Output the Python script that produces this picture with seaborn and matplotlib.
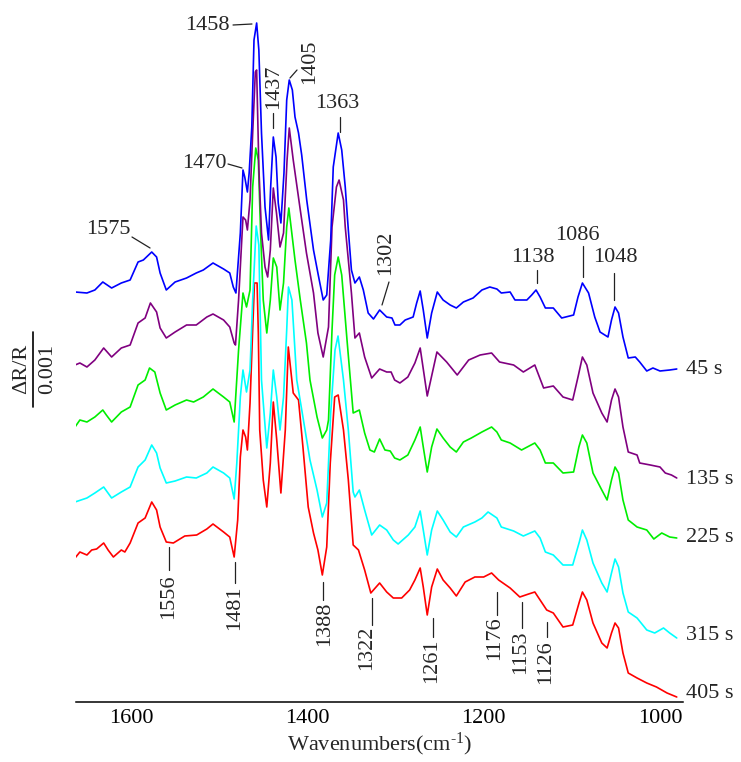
import numpy as np
import pandas as pd
import matplotlib
matplotlib.use("Agg")
import matplotlib.pyplot as plt
from matplotlib.lines import Line2D
import seaborn as sns

# ---------------- data (wavenumber in cm-1, signal in arbitrary stacked units) ----------------
wn_45 = [1663.5,1650,1641,1632,1622,1611,1601,1592,1586,1576.5,1571,1567,1560,1550,1537,1526,1518,1507,1495,1488,1484,1481,1476,1473,1471,1468,1466,1463,1460.5,1457.5,1455,1452,1448,1444,1441.6,1438.6,1435.5,1433,1430,1426.5,1423.4,1420.5,1417,1414,1410,1406.4,1400.7,1393,1387.6,1382,1378,1373.5,1370.6,1365,1361,1357,1353.5,1350,1346,1341,1336.5,1331,1325,1318,1310,1304,1300.6,1295,1289,1280,1276,1272,1268.5,1264,1259,1252.6,1246,1238,1231,1223,1212,1202,1193,1185,1180,1170,1164.5,1151,1145.5,1140.6,1136,1130,1121,1111.5,1098,1093,1088,1081,1074,1068,1059,1055,1051,1047,1042,1036,1028,1023,1015,1008,1000,989,981]
sig_45 = [410,409,412,420,414,419,422,440,442,450,445,429,412,420,424,429,432,439,433,429,415,409,469,532,525,510,529,575,662,679,652,569,495,462,515,565,545,499,479,529,602,622,612,585,569,547,502,452,427,402,407,462,535,569,552,515,472,432,419,425,412,389,383,392,385,384,377,377,382,385,399,411,392,364,389,410,402,397,394,400,404,412,415,413,409,410,402,402,407,412,405,394,394,384,387,405,419,409,385,370,365,382,395,389,365,344,345,340,331,334,331,332,333]

wn_135 = [1663.5,1658,1650,1641,1631,1622,1611,1601,1592,1584,1578,1571,1567,1560,1550,1537,1526,1514,1507,1495,1488,1483,1481.5,1478,1473,1470,1468,1465,1462,1459,1457.5,1455,1452,1448,1445,1442,1438.6,1435,1431,1427,1423,1420.5,1416,1408,1401,1393,1388,1382,1376,1372,1367,1364,1359,1357,1350,1346,1341,1335,1327,1318,1310,1305,1301,1295,1286,1278,1272,1264,1253,1242,1230,1217,1204,1191,1182,1166,1155,1142,1132,1121,1110,1099,1093,1088,1083,1076,1066,1060,1055,1051,1047,1042,1036,1026,1023,1011,1000,994,987,981]
sig_135 = [337,339,335,342,354,345,354,357,379,384,399,390,374,364,370,377,377,385,388,382,375,359,357,402,485,482,472,502,569,630,632,535,469,435,425,452,514,489,455,469,542,574,542,492,449,409,369,345,375,475,515,522,502,475,409,364,369,345,324,333,330,330,322,319,325,339,354,306,350,340,327,342,347,349,340,337,330,337,314,316,305,302,325,345,337,309,289,280,302,313,305,275,250,247,239,237,235,229,227,224]

wn_225 = [1663.5,1658,1650,1641,1632,1628,1622,1611,1601,1592,1584,1579,1573,1567,1560,1550,1537,1529,1518,1507,1495,1488,1483,1478,1473,1469,1465,1462,1458.5,1455.6,1453,1450,1446,1442,1438.6,1434.7,1431,1427,1423.4,1421,1414,1408,1401,1397,1389,1383,1378,1376,1372,1369,1365,1361,1355,1348,1341,1335,1329,1324,1318,1312,1306,1301,1295,1286,1278,1272,1268.5,1264,1259,1253,1246,1238,1231,1223,1214,1202,1191,1185,1180,1170,1157,1142,1136,1130,1121,1110,1098,1092,1088,1083,1076,1066,1060,1055,1051,1047,1042,1036,1026,1015,1007,998,989,981]
sig_225 = [275,282,280,285,292,287,280,290,295,317,322,334,330,309,292,297,302,300,305,313,305,300,280,352,409,395,412,515,554,542,469,402,369,402,444,435,392,419,475,494,442,402,359,322,285,264,272,282,372,427,445,427,362,289,292,269,252,250,263,252,251,244,242,247,262,275,255,230,255,273,264,255,250,260,264,270,275,270,262,259,252,259,252,239,239,229,230,255,267,259,229,212,202,222,235,229,202,182,175,172,163,169,165,164]

wn_315 = [1663.5,1650,1641,1631,1622,1611,1601,1592,1584,1576.5,1571,1567,1560,1550,1537,1526,1514,1507,1495,1488,1483,1480,1476,1473,1469,1465,1462,1458,1455,1452,1446,1442,1438.6,1434.7,1431,1427,1423.4,1421.4,1417.5,1412,1405,1397,1389,1383,1378,1373.5,1368.6,1365.2,1359,1353.5,1348,1346,1341,1335,1327,1318,1310,1302.5,1297,1285.5,1278,1272,1268.5,1264,1259,1252.6,1246,1238,1231,1223,1210,1202,1195,1185,1180,1166,1155,1142,1136,1130,1121,1110,1099,1091.5,1088,1083,1076,1066,1060,1055,1051,1047,1042,1036,1026,1015,1006,996,989,981]
sig_315 = [200,204,209,215,204,210,215,235,242,257,249,234,219,221,225,224,229,235,229,224,203,239,305,332,310,332,402,476,457,322,254,289,332,305,272,305,372,415,402,322,285,242,212,185,199,289,352,366,322,272,210,205,212,192,167,177,172,162,158,167,175,191,172,147,172,191,182,170,165,175,180,184,190,184,175,171,166,171,164,150,147,137,137,160,172,162,139,119,110,129,143,135,109,90,84,72,69,74,69,64]

wn_405 = [1663.5,1658,1650,1644.6,1639,1631,1626,1620,1611,1607,1601,1592,1584,1576.5,1571,1567,1560,1552,1539,1525.5,1514,1507,1495,1488,1483,1479,1476,1473,1470,1468,1465,1462,1460,1457,1455.6,1454,1450,1446,1442,1438.6,1434.7,1430,1425,1421.6,1416,1410,1405,1399,1393,1388,1383,1378,1374,1369,1365,1359,1353.5,1348,1342,1335,1328,1318,1310,1302.5,1293,1284,1278,1272,1268.5,1264,1259,1252.6,1246,1238,1231,1221,1210,1200,1191,1183,1170,1159,1149,1142,1136,1128.5,1121,1110,1099,1091.5,1088,1083,1076,1066,1060,1055,1051,1047,1042,1036,1026,1015,1004,992,981]
sig_405 = [144,150,147,152,153,159,152,145,152,150,159,179,184,200,192,175,160,159,166,167,173,178,170,165,145,182,245,272,265,252,299,372,419,419,369,272,222,195,239,300,262,209,272,355,309,302,255,195,169,152,127,155,239,305,307,272,222,157,152,132,109,119,110,104,104,112,122,134,115,87,115,133,122,114,106,120,125,125,129,122,114,105,108,110,102,92,89,75,77,100,110,102,79,59,54,69,79,74,49,29,24,19,15,9,5]

trace_names = ["405 s", "315 s", "225 s", "135 s", "45 s"]
trace_colors = ["#FF0000", "#00FFFF", "#00EE00", "#800080", "#0000FF"]
x_ticks = [1600, 1400, 1200, 1000]

peak_labels = ["1458", "1470", "1575", "1437", "1405", "1363", "1302", "1138", "1086", "1048",
               "1556", "1481", "1388", "1322", "1261", "1176", "1153", "1126"]

# ---------------- plotting ----------------
sns.set_style("white")
plt.rcParams['font.family'] = ['Liberation Serif', 'DejaVu Serif']
plt.rcParams['mathtext.fontset'] = 'custom'
plt.rcParams['mathtext.rm'] = 'Liberation Serif'
plt.rcParams['mathtext.it'] = 'Liberation Serif'

W, H = 741, 762
FS = 16
fig = plt.figure(figsize=(W / 100, H / 100), dpi=100)
ax = fig.add_axes([76 / W, 60 / H, 607 / W, 702 / H])

frames = []
for name, wn, sig in zip(trace_names,
                         [wn_405, wn_315, wn_225, wn_135, wn_45],
                         [sig_405, sig_315, sig_225, sig_135, sig_45]):
    frames.append(pd.DataFrame({"wn": wn, "sig": sig, "trace": name}))
df = pd.concat(frames, ignore_index=True)

sns.lineplot(data=df, x="wn", y="sig", hue="trace", hue_order=trace_names,
             palette=dict(zip(trace_names, trace_colors)), sort=False,
             estimator=None, legend=False, linewidth=1.2, ax=ax)

ax.set_xlim(1662.4, 973.9)
ax.set_ylim(0, 702)
for s in ["left", "top", "right"]:
    ax.spines[s].set_visible(False)
ax.spines["bottom"].set_linewidth(1.1)
ax.spines["bottom"].set_color("black")
ax.set_yticks([])
ax.set_ylabel("")
ax.set_xticks(x_ticks)
ax.set_xticklabels([str(t) for t in x_ticks])
ax.tick_params(axis="x", direction="in", length=5, width=1, labelsize=FS, pad=5, colors="black")
ax.set_xlabel("Wavenumbers(cm$^{\\text{-1}}$)", fontsize=FS, labelpad=2)

ann_geom = {
    "1458": ((1484.3, 677, 1462.8, 678), (1487.7, 677), 0, "right"),
    "1470": ((1490.0, 538, 1474.1, 534), (1491.1, 539), 0, "right"),
    "1575": ((1598.9, 465, 1578.4, 454), (1625.5, 472), 0, "center"),
    "1437": ((1438.4, 589, 1438.4, 574), (1437.8, 615), 90, "center"),
    "1405": ((1419.7, 624, 1411.7, 632), (1397.0, 640), 90, "center"),
    "1363": ((1363.0, 585, 1363.0, 570), (1365.8, 599), 0, "center"),
    "1302": ((1307.4, 420, 1315.3, 397), (1310.8, 449), 90, "center"),
    "1138": ((1139.9, 432, 1139.9, 419), (1144.6, 445), 0, "center"),
    "1086": ((1087.3, 456, 1087.3, 425), (1093.6, 467), 0, "center"),
    "1048": ((1052.2, 429, 1052.2, 402), (1051.0, 444), 0, "center"),
    "1556": ((1556.9, 155, 1556.9, 132), (1557.5, 105), 90, "center"),
    "1481": ((1482.4, 140, 1482.4, 119), (1482.0, 94), 90, "center"),
    "1388": ((1382.2, 120, 1382.2, 102), (1380.0, 78), 90, "center"),
    "1322": ((1326.7, 104, 1326.7, 77), (1332.9, 54), 90, "center"),
    "1261": ((1257.5, 84, 1257.5, 65), (1258.6, 41), 90, "center"),
    "1176": ((1184.9, 110, 1184.9, 87), (1187.1, 64), 90, "center"),
    "1153": ((1156.5, 100, 1156.5, 74), (1157.7, 50), 90, "center"),
    "1126": ((1128.2, 80, 1128.2, 65), (1129.3, 40), 90, "center"),
}
for lab in peak_labels:
    (x0, y0, x1, y1), (tx, ty), rot, ha = ann_geom[lab]
    ax.plot([x0, x1], [y0, y1], color="#222222", lw=0.9, clip_on=False)
    ax.text(tx, ty, lab, rotation=rot, ha=ha, va="center", fontsize=FS, clip_on=False)

time_label_pos = {"45 s": 332, "135 s": 222, "225 s": 164, "315 s": 67, "405 s": 9}
for name, yv in time_label_pos.items():
    ax.text(970.5, yv, name, ha="left", va="center", fontsize=FS, clip_on=False)

fig.text(22 / W, 1 - 369 / H, "\u0394R/R", rotation=90, ha="center", va="center", fontsize=FS)
fig.add_artist(Line2D([33 / W, 33 / W], [1 - 332 / H, 1 - 407 / H], transform=fig.transFigure,
                      color="black", lw=1.2))
fig.text(48 / W, 1 - 369 / H, "0.001", rotation=90, ha="center", va="center", fontsize=FS)

fig.savefig("out.png", dpi=100)
